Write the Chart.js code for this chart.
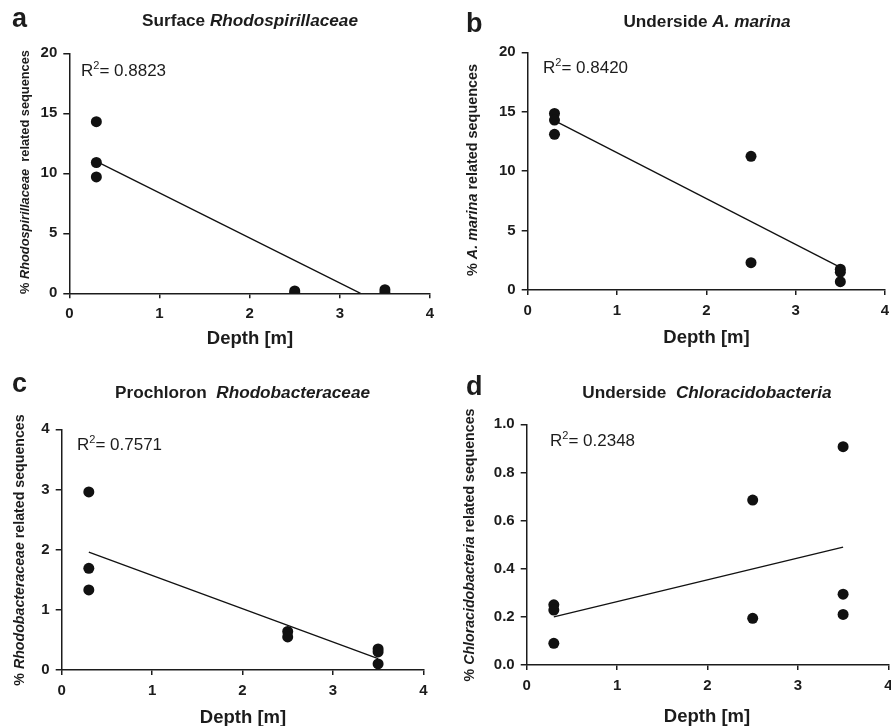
<!DOCTYPE html>
<html>
<head>
<meta charset="utf-8">
<script src="https://cdn.jsdelivr.net/npm/chart.js@4"></script>
<style>
  html, body { margin: 0; padding: 0; background: #fff; overflow: hidden; }
  body { width: 891px; height: 726px; position: relative; }
  canvas { position: absolute; }
</style>
</head>
<body>
<canvas id="chartA"></canvas>
<canvas id="chartB"></canvas>
<canvas id="chartC"></canvas>
<canvas id="chartD"></canvas>
<script>
// depth of each sample [m] and % of related sequences
const depthA = [0.3, 0.3, 0.3, 2.5, 2.5, 3.5, 3.5]
const pctA   = [14.3, 10.9, 9.7, 0.2, 0.05, 0.3, 0.05]
const fitXA  = [0.3, 3.23]
const fitYA  = [11.0, 0]

const depthB = [0.3, 0.3, 0.3, 2.5, 2.5, 3.5, 3.5, 3.5]
const pctB   = [14.85, 14.3, 13.1, 11.25, 2.3, 1.75, 1.5, 0.7]
const fitXB  = [0.3, 3.5]
const fitYB  = [14.25, 1.9]

const depthC = [0.3, 0.3, 0.3, 2.5, 2.5, 3.5, 3.5, 3.5]
const pctC   = [2.96, 1.69, 1.33, 0.64, 0.55, 0.35, 0.3, 0.1]
const fitXC  = [0.3, 3.5]
const fitYC  = [1.96, 0.19]

const depthD = [0.3, 0.3, 0.3, 2.5, 2.5, 3.5, 3.5, 3.5]
const pctD   = [0.25, 0.228, 0.09, 0.685, 0.194, 0.907, 0.294, 0.21]
const fitXD  = [0.3, 3.5]
const fitYD  = [0.2, 0.49]

const r2Values  = ["0.8823", "0.8420", "0.7571", "0.2348"]
const letters   = ["a", "b", "c", "d"]
const titles = [
    [["Surface ", false], ["Rhodospirillaceae", true]],
    [["Underside ", false], ["A. marina", true]],
    [["Prochloron  ", false], ["Rhodobacteraceae", true]],
    [["Underside  ", false], ["Chloracidobacteria", true]]
]
const yTitles = [
    [["% ", false], ["Rhodospirillaceae", true], ["  related sequences", false]],
    [["% ", false], ["A. marina", true], [" related sequences", false]],
    [["% ", false], ["Rhodobacteraceae", true], [" related sequences", false]],
    [["% ", false], ["Chloracidobacteria", true], [" related sequences", false]]
]
const xTitle = "Depth [m]"
const xTicks = {min: 0, max: 4, step: 1}
const yTicksList = [
    {min: 0, max: 20, step: 5, dec: 0},
    {min: 0, max: 20, step: 5, dec: 0},
    {min: 0, max: 4, step: 1, dec: 0},
    {min: 0, max: 1, step: 0.2, dec: 1}
]

// layout (page pixels)
const FAMILY = '"Liberation Sans", Arial, Helvetica, sans-serif'
const INK = "#1c1c1c"
const Y_W = 40, X_H = 30
const layout = [
    {id: "chartA", x0: 0,   y0: 0,   w: 445, h: 365, area: [69.3, 53.3, 430, 293.3], ytSize: 12.8,
     letter: [12, 27], title: [250, 26], r2: [81, 76], yt: [25, 172], xt: [250, 344]},
    {id: "chartB", x0: 445, y0: 0,   w: 455, h: 365, area: [527.7, 52.3, 885, 290], ytSize: 14.4,
     letter: [466, 32], title: [707, 26.5], r2: [543, 73], yt: [473, 170], xt: [706.5, 343]},
    {id: "chartC", x0: 0,   y0: 365, w: 445, h: 361, area: [61.7, 429.3, 423.3, 670], ytSize: 14.2,
     letter: [12, 392], title: [242.5, 398], r2: [77, 450], yt: [20, 550], xt: [243, 723]},
    {id: "chartD", x0: 445, y0: 365, w: 455, h: 361, area: [526.7, 424.3, 888.3, 665], ytSize: 14.2,
     letter: [466, 395], title: [707, 398], r2: [550, 446], yt: [470, 545], xt: [707, 722]}
]

const font = (italic, weight, size) => (italic ? "italic " : "") + weight + " " + size + "px " + FAMILY

function drawParts(ctx, parts, weight, size, x, y){
    const widths = parts.map(([t, it]) => {
        ctx.font = font(it, weight, size)
        return ctx.measureText(t).width
    })
    const total = widths.reduce((a, b) => a + b, 0)
    let cx = x - total / 2
    parts.forEach(([t, it], i) => {
        ctx.font = font(it, weight, size)
        ctx.fillText(t, cx, y)
        cx += widths[i]
    })
}

const decorations = {
    id: "decorations",
    afterDraw(chart, args, opts){
        const L = opts.L, i = opts.index
        const ctx = chart.ctx
        ctx.save()
        ctx.fillStyle = INK
        ctx.textAlign = "left"
        ctx.textBaseline = "alphabetic"
        // panel letter
        ctx.font = font(false, "bold", 27)
        ctx.fillText(letters[i], L.letter[0] - L.x0, L.letter[1] - L.y0)
        // title
        drawParts(ctx, titles[i], "bold", 17.2, L.title[0] - L.x0, L.title[1] - L.y0)
        // x axis title
        drawParts(ctx, [[xTitle, false]], "bold", 18.5, L.xt[0] - L.x0, L.xt[1] - L.y0)
        // R^2 label
        let rx = L.r2[0] - L.x0, ry = L.r2[1] - L.y0
        ctx.font = font(false, "normal", 17)
        ctx.fillText("R", rx, ry)
        rx += ctx.measureText("R").width
        ctx.font = font(false, "normal", 11)
        ctx.fillText("2", rx, ry - 7)
        rx += ctx.measureText("2").width
        ctx.font = font(false, "normal", 17)
        ctx.fillText("= " + r2Values[i], rx, ry)
        // y axis title (rotated)
        ctx.translate(L.yt[0] - L.x0, L.yt[1] - L.y0)
        ctx.rotate(-Math.PI / 2)
        ctx.textBaseline = "middle"
        drawParts(ctx, yTitles[i], "bold", L.ytSize, 0, 0)
        ctx.restore()
    }
}

const series = [
    [depthA, pctA, fitXA, fitYA],
    [depthB, pctB, fitXB, fitYB],
    [depthC, pctC, fitXC, fitYC],
    [depthD, pctD, fitXD, fitYD]
]

series.forEach(([xs, ys, fx, fy], i) => {
    const L = layout[i]
    const yt = yTicksList[i]
    const canvas = document.getElementById(L.id)
    canvas.width = L.w
    canvas.height = L.h
    canvas.style.left = L.x0 + "px"
    canvas.style.top = L.y0 + "px"
    const [aL, aT, aR, aB] = L.area

    new Chart(canvas, {
        type: "scatter",
        data: {
            datasets: [
                {
                    data: xs.map((x, k) => ({x: x, y: ys[k]})),
                    backgroundColor: "#111",
                    borderWidth: 0,
                    pointRadius: 5.5
                },
                {
                    data: fx.map((x, k) => ({x: x, y: fy[k]})),
                    showLine: true,
                    borderColor: "#111",
                    borderWidth: 1.3,
                    pointRadius: 0
                }
            ]
        },
        options: {
            responsive: false,
            animation: false,
            layout: {
                padding: {
                    left: aL - L.x0 - Y_W,
                    top: aT - L.y0,
                    right: L.x0 + L.w - aR,
                    bottom: L.y0 + L.h - aB - X_H
                }
            },
            plugins: {
                legend: {display: false},
                tooltip: {enabled: false},
                decorations: {L: L, index: i}
            },
            scales: {
                x: {
                    type: "linear",
                    min: xTicks.min, max: xTicks.max,
                    afterFit: s => { s.height = X_H },
                    ticks: {stepSize: xTicks.step, color: INK, padding: 7,
                            font: {family: FAMILY, size: 15, weight: "bold"}},
                    grid: {drawOnChartArea: false, drawTicks: true, tickLength: 5, color: INK, lineWidth: 1.5},
                    border: {color: INK, width: 1.5}
                },
                y: {
                    type: "linear",
                    min: yt.min, max: yt.max,
                    afterFit: s => { s.width = Y_W },
                    ticks: {stepSize: yt.step, color: INK, padding: 6,
                            callback: v => v.toFixed(yt.dec),
                            font: {family: FAMILY, size: 15, weight: "bold"}},
                    grid: {drawOnChartArea: false, drawTicks: true, tickLength: 6, color: INK, lineWidth: 1.5},
                    border: {color: INK, width: 1.5}
                }
            }
        },
        plugins: [decorations]
    })
})
</script>
</body>
</html>
